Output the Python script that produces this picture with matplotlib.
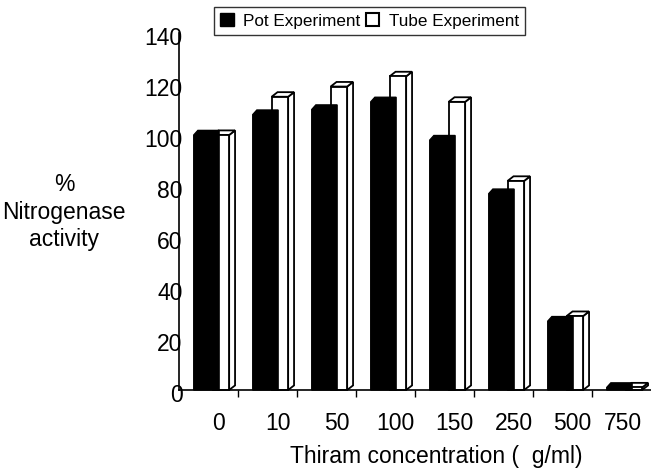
import matplotlib
matplotlib.use("Agg")
import matplotlib.pyplot as plt
from matplotlib.patches import Polygon, Patch
from matplotlib.transforms import ScaledTranslation
import numpy as np

plt.rcParams['font.family'] = ['Liberation Sans', 'DejaVu Sans']

categories = ['0', '10', '50', '100', '150', '250', '500', '750']
pot = [100, 108, 110, 113, 98, 77, 27, 1]
tube = [100, 115, 119, 123, 113, 82, 29, 1]
series_names = ['Pot Experiment', 'Tube Experiment']
yticks = [0, 20, 40, 60, 80, 100, 120, 140]

fig = plt.figure(figsize=(6.51, 4.68), dpi=100)
ax = fig.add_axes([179/651, 1-390/468, 1-179/651, (390-33)/468])
ax.set_xlim(0, 8)
ax.set_ylim(0, 140)

dx, dy = 0.1, 1.8
lw = 1.3
for i in range(len(categories)):
    # tube (white) bar
    x0, x1, h = i + 0.57, i + 0.85, tube[i]
    side = Polygon([(x1, 0), (x1 + dx, dy), (x1 + dx, h + dy), (x1, h)], closed=True,
                   facecolor='white', edgecolor='black', lw=lw, clip_on=False, zorder=2)
    top = Polygon([(x0, h), (x1, h), (x1 + dx, h + dy), (x0 + dx, h + dy)], closed=True,
                  facecolor='white', edgecolor='black', lw=lw, clip_on=False, zorder=2)
    front = Polygon([(x0, 0), (x1, 0), (x1, h), (x0, h)], closed=True,
                    facecolor='white', edgecolor='black', lw=lw, clip_on=False, zorder=2)
    for p in (side, top, front):
        ax.add_patch(p)
    # pot (black) bar
    b0, b1, hb = i + 0.25, i + 0.68, pot[i]
    blk = Polygon([(b0, 0), (b0, hb), (b0 + dx * 0.7, hb + dy), (b1, hb + dy), (b1, 0)], closed=True,
                  facecolor='black', edgecolor='black', lw=1, clip_on=False, zorder=3)
    ax.add_patch(blk)

for s in ('top', 'right'):
    ax.spines[s].set_visible(False)
ax.spines['left'].set_linewidth(1.2)
ax.spines['bottom'].set_linewidth(1.2)

ax.set_yticks(yticks)
ax.set_yticklabels([str(v) for v in yticks], fontsize=16.5)
ax.tick_params(axis='y', length=0, pad=-2.5)
shift = ScaledTranslation(0, -0.03, fig.dpi_scale_trans)
for t in ax.get_yticklabels():
    t.set_transform(t.get_transform() + shift)

ax.set_xticks(np.arange(1, 8))
ax.set_xticklabels([])
ax.tick_params(axis='x', which='major', length=5, width=1, direction='out')
label_pos = np.arange(len(categories)) + 0.67
label_pos[-1] = 7.53
ax.set_xticks(label_pos, labels=categories, minor=True)
ax.tick_params(axis='x', which='minor', length=0, pad=16, labelsize=16.5)

fig.text(436/651, 1-456/468, 'Thiram concentration (  g/ml)', fontsize=16.5,
         ha='center', va='center')
fig.text(64/651, 1-212/468, '%\nNitrogenase\nactivity', fontsize=16.5,
         ha='center', va='center', multialignment='center', linespacing=1.25)

handles = [Patch(facecolor='black', edgecolor='black'),
           Patch(facecolor='white', edgecolor='black', lw=1.5)]
leg = fig.legend(handles, series_names, loc='center', bbox_to_anchor=(369.5/651, 1-21/468),
                 ncol=2, fontsize=12.3, frameon=True, fancybox=False, edgecolor='black',
                 handlelength=0.8, handleheight=0.8, handletextpad=0.55, columnspacing=0.3,
                 borderpad=0.35, borderaxespad=0)
leg.get_frame().set_linewidth(1.0)

fig.savefig('out.png', dpi=100)
